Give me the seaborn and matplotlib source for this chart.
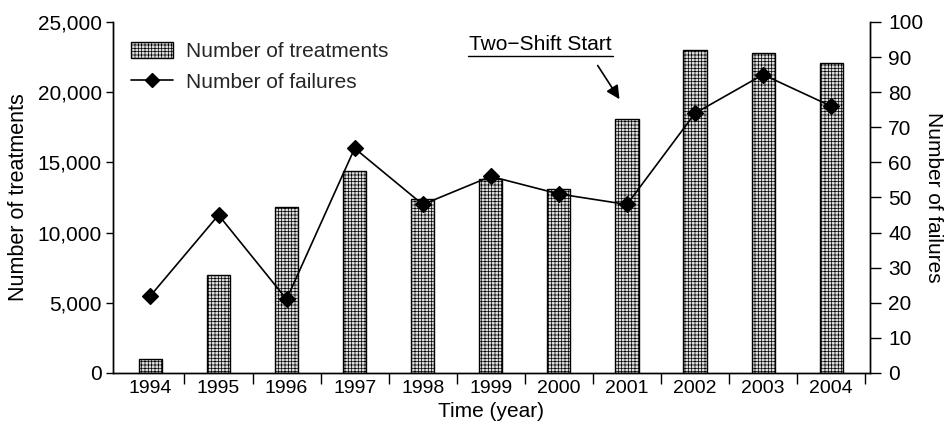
import matplotlib
matplotlib.use("Agg")
import matplotlib.pyplot as plt
import matplotlib.ticker as mticker
from matplotlib.lines import Line2D
from matplotlib.patches import Patch
import numpy as np
import pandas as pd
import seaborn as sns

years = ["1994", "1995", "1996", "1997", "1998", "1999", "2000", "2001", "2002", "2003", "2004"]
treatments = [1000, 7000, 11800, 14400, 12400, 13800, 13100, 18100, 23000, 22800, 22100]
failures = [22, 45, 21, 64, 48, 56, 51, 48, 74, 85, 76]

df = pd.DataFrame({"year": years, "treatments": treatments, "failures": failures})

sns.set_theme(style="white")
plt.rcParams["font.family"] = ["Liberation Sans", "DejaVu Sans"]
plt.rcParams["hatch.color"] = "#8a8a8a"
plt.rcParams["hatch.linewidth"] = 0.5

BAR_FC = "#dcdcdc"
HATCH = "+++++"

fig, ax = plt.subplots(figsize=(9.45, 4.44), dpi=100)
fig.subplots_adjust(left=0.1196, right=0.9206, top=0.9505, bottom=0.16)

sns.barplot(data=df, x="year", y="treatments", ax=ax, color=BAR_FC,
            width=0.34, edgecolor="black", linewidth=1.0, saturation=1)
for p in ax.patches:
    p.set_hatch(HATCH)

ax2 = ax.twinx()
sns.pointplot(data=df, x="year", y="failures", ax=ax2, color="black",
              marker="D", markersize=8, linewidth=1.2, linestyle="-")

for a in (ax, ax2):
    a.set_xlim(-0.55, 10.57)
    for s in a.spines.values():
        s.set_color("black")
        s.set_linewidth(1.0)
    a.spines["top"].set_visible(False)

ax.set_ylim(0, 25000)
ax2.set_ylim(0, 100)
ax.set_yticks(np.arange(0, 25001, 5000))
ax.yaxis.set_major_formatter(mticker.FuncFormatter(lambda v, p: f"{int(v):,}"))
ax2.set_yticks(np.arange(0, 101, 10))

ax.tick_params(axis="y", which="major", direction="out", length=5, width=1,
               labelsize=15, color="black", labelcolor="black", left=True, pad=3)
ax2.tick_params(axis="y", which="major", direction="out", length=8, width=1,
                labelsize=15, color="black", labelcolor="black", right=True, pad=5)
ax.tick_params(axis="x", which="major", length=0, labelsize=14, pad=5, labelcolor="black")
ax.xaxis.set_minor_locator(mticker.FixedLocator(np.arange(0.5, 10.6, 1)))
ax.tick_params(axis="x", which="minor", direction="out", length=8, width=1,
               color="black", bottom=True)
ax2.tick_params(axis="x", which="both", length=0, labelbottom=False)

ax.set_xlabel("Time (year)", fontsize=15, labelpad=4, color="black")
ax.set_ylabel("Number of treatments", fontsize=15.5, labelpad=6, color="black")
ax2.set_ylabel("Number of failures", fontsize=15, rotation=-90, labelpad=14,
               color="black")
ax.grid(False)
ax2.grid(False)

handles = [Patch(facecolor=BAR_FC, edgecolor="black", hatch=HATCH, linewidth=1.0),
           Line2D([0], [0], color="black", marker="D", markersize=7, linewidth=1.2)]
ax.legend(handles, ["Number of treatments", "Number of failures"], loc="upper left",
          bbox_to_anchor=(0.005, 0.985), frameon=False, fontsize=15,
          handlelength=2.0, handleheight=0.8, handletextpad=0.6, labelspacing=0.55,
          borderaxespad=0.3)

ax2.text(5.72, 93.6, "Two\u2212Shift Start", fontsize=15, ha="center", va="center",
         color="black")
ax2.plot([4.67, 6.79], [90.4, 90.4], color="black", lw=1.0)
ax2.annotate("", xy=(6.89, 78.0), xytext=(6.57, 87.6), textcoords="data",
             arrowprops=dict(arrowstyle="-|>", color="black", lw=1.2,
                             mutation_scale=20, shrinkA=0, shrinkB=0))

fig.savefig("out.png", dpi=100)
